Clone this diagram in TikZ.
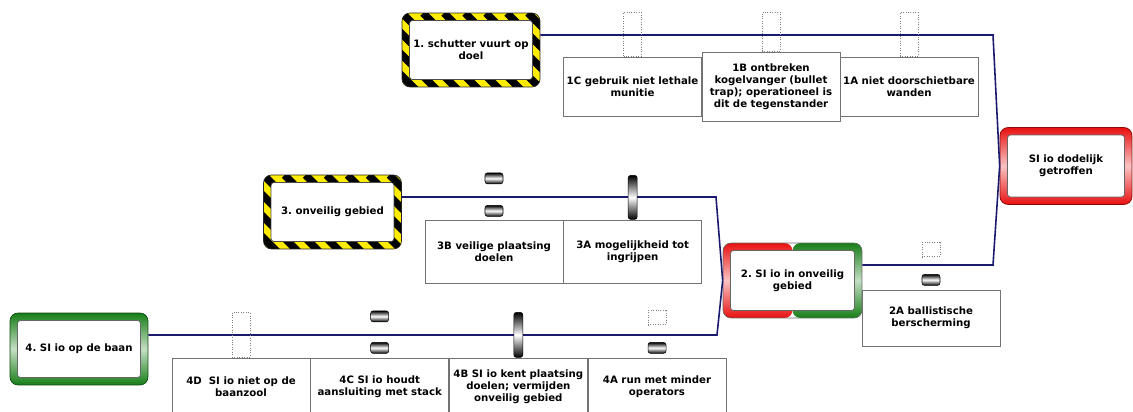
\documentclass[tikz,border=0pt]{standalone}
\usepackage{fontspec}
\setmainfont{DejaVu Sans}
\usepackage{tikz}
\usetikzlibrary{positioning, calc}

\definecolor{navy}{RGB}{25,25,110}
\definecolor{hazyellow}{RGB}{255,236,0}
\definecolor{evred}{RGB}{232,16,16}
\definecolor{evgreen}{RGB}{22,125,22}

\begin{document}
\frenchspacing
\begin{tikzpicture}[
  x=0.02cm, y=-0.02cm,
  every node/.style={font=\fontsize{5.8}{6.9}\selectfont\bfseries,
    align=center, inner sep=1pt},
  hazard/.style={rectangle, rounded corners=0.16cm, draw=black!85,
    minimum width=2.76cm, minimum height=1.48cm,
    path picture={
      \fill[hazyellow] (path picture bounding box.south west)
        rectangle (path picture bounding box.north east);
      \foreach \k in {-5,...,8}
        \draw[black, line width=0.15cm]
          ([xshift=\k*0.42cm]path picture bounding box.north west) -- ++(2cm,-2cm);
      \filldraw[fill=white, draw=black!70, rounded corners=0.06cm]
        ([shift={(0.15cm,-0.15cm)}]path picture bounding box.north west) rectangle
        ([shift={(-0.15cm,0.15cm)}]path picture bounding box.south east);
    }},
  event/.style={rectangle, rounded corners=0.16cm, draw=#1!60!black,
    minimum width=2.76cm, minimum height=1.5cm,
    path picture={
      \shade[top color=#1, bottom color=#1, middle color=#1!25]
        (path picture bounding box.south west)
        rectangle (path picture bounding box.north east);
      \filldraw[fill=white, draw=black!60, rounded corners=0.06cm]
        ([shift={(0.15cm,-0.15cm)}]path picture bounding box.north west) rectangle
        ([shift={(-0.15cm,0.15cm)}]path picture bounding box.south east);
    }},
  split/.style={rectangle, rounded corners=0.16cm, draw=black!60,
    minimum width=2.78cm, minimum height=1.5cm,
    path picture={
      \shade[top color=evred, bottom color=evred, middle color=evred!25]
        (path picture bounding box.south west)
        rectangle (path picture bounding box.north);
      \shade[top color=evgreen, bottom color=evgreen, middle color=evgreen!25]
        (path picture bounding box.south)
        rectangle (path picture bounding box.north east);
      \filldraw[fill=white, draw=black!60, rounded corners=0.06cm]
        ([shift={(0.15cm,-0.15cm)}]path picture bounding box.north west) rectangle
        ([shift={(-0.15cm,0.15cm)}]path picture bounding box.south east);
    }},
  barrier/.style={rectangle, draw=black!55, fill=white,
    minimum width=2.76cm, minimum height=#1},
  pill/.style={rectangle, rounded corners=0.05cm, draw=black,
    line width=0.3pt, minimum width=0.36cm, minimum height=0.22cm,
    inner sep=0pt, top color=black, bottom color=black,
    middle color=white},
  bar/.style={pill, minimum width=0.18cm, minimum height=0.88cm},
  ghost/.style={rectangle, draw=black!50, densely dotted,
    minimum width=0.36cm, minimum height=#1, inner sep=0pt},
  conn/.style={draw=navy, line width=0.9pt}
]
\path[use as bounding box, clip] (0,0) rectangle (1133,412);

% hazards and events
\node[hazard] (h1) at (471,50) {1. schutter vuurt op\\doel};
\node[hazard] (h3) at (332.5,212) {3. onveilig gebied};
\node[event=evgreen, minimum height=1.44cm] (h4) at (79,349) {4. SI io op de baan};
\node[split] (ev2) at (792.5,280.5) {2. SI io in onveilig\\gebied};
\node[event=evred, minimum width=2.64cm, minimum height=1.54cm] (top) at (1066,166)
  {SI io dodelijk\\getroffen};

% barriers
\node[barrier=1.18cm] (b1c) at (632.5,86.5) {1C gebruik niet lethale\\munitie};
\node[barrier=1.18cm] (b1a) at (909,86.5) {1A niet doorschietbare\\wanden};
\node[barrier=1.38cm] (b1b) at (771,86.5)
  {1B ontbreken\\kogelvanger (bullet\\trap); operationeel is\\dit de tegenstander};
\node[barrier=1.26cm] (b3b) at (494,251.5) {3B veilige plaatsing\\doelen};
\node[barrier=1.26cm, right=0pt of b3b] (b3a) {3A mogelijkheid tot\\ingrijpen};
\node[barrier=1.12cm] (b2a) at (931,318) {2A ballistische\\berscherming};
\node[barrier=1.16cm] (b4d) at (241,387) {4D~~SI io niet op de\\baanzool};
\node[barrier=1.16cm, right=0pt of b4d] (b4c) {4C SI io houdt\\aansluiting met stack};
\node[barrier=1.16cm, right=0pt of b4c] (b4b)
  {4B SI io kent plaatsing\\doelen; vermijden\\onveilig gebied};
\node[barrier=1.16cm, right=0pt of b4b] (b4a) {4A run met minder\\operators};

% lines
\coordinate (k1) at (993,35);
\coordinate (k2) at (993,265);
\coordinate (k3) at (716,197);
\coordinate (k4) at (717,335);
\draw[conn] (h1.east |- k1) -- (k1) -- (top.west);
\draw[conn] (ev2.east |- k2) -- (k2) -- (top.west);
\draw[conn] (h3.east |- k3) -- (k3) -- (ev2.west);
\draw[conn] (h4.east |- k4) -- (k4) -- (ev2.west);

% barrier marks
\node[ghost=0.88cm, above=0pt of b1c] (g1c) {};
\node[ghost=0.78cm, above=0pt of b1b] (g1b) {};
\node[ghost=0.88cm, above=0pt of b1a] (g1a) {};
\node[pill, above=0.06cm of b3b] (p3b) {};
\node[pill, above=0.42cm of p3b] (q3b) {};
\node[bar, above=0pt of b3a] (r3a) {};
\node[pill, above=0.08cm of b2a] (p2a) {};
\node[ghost=0.28cm, above=0.34cm of p2a] (g2a) {};
\node[ghost=0.9cm, above=0pt of b4d] (g4d) {};
\node[pill, above=0.08cm of b4c] (p4c) {};
\node[pill, above=0.4cm of p4c] (q4c) {};
\node[bar, minimum height=0.9cm, above=0pt of b4b] (r4b) {};
\node[pill, above=0.08cm of b4a] (p4a) {};
\node[ghost=0.28cm, above=0.34cm of p4a] (g4a) {};
\end{tikzpicture}
\end{document}
